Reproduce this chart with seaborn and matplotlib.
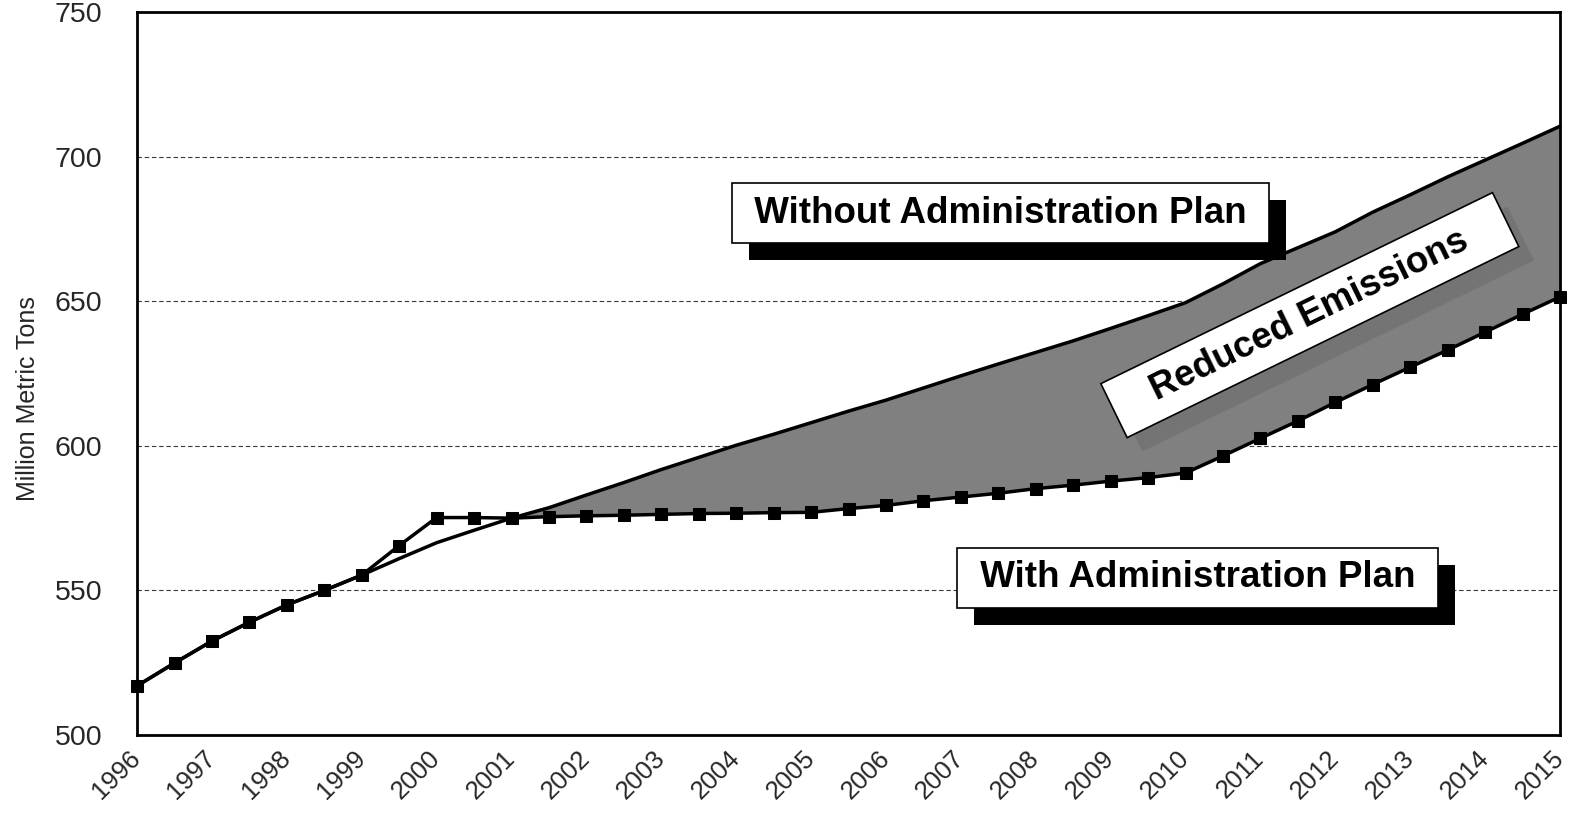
import numpy as np
import pandas as pd
import matplotlib
matplotlib.use("Agg")
import matplotlib.pyplot as plt
import matplotlib.patheffects as pe
import seaborn as sns

# Half-year steps, 1996 to 2015
years = [1996 + 0.5 * i for i in range(39)]

without_plan = [517.0, 524.9, 532.5, 539.0, 545.0, 550.0, 555.3, 561.0, 566.5, 570.8,
                575.0, 578.6, 583.0, 587.3, 591.8, 596.0, 600.2, 604.0, 608.0, 612.0,
                615.8, 620.0, 624.2, 628.3, 632.3, 636.3, 640.6, 645.0, 649.5, 656.0,
                663.0, 668.5, 674.0, 680.8, 686.8, 693.0, 698.8, 704.6, 710.5]

with_plan = [517.0, 524.9, 532.5, 539.0, 545.0, 550.0, 555.3, 565.5, 575.2, 575.2,
             575.0, 575.5, 575.8, 576.0, 576.3, 576.6, 576.7, 576.9, 577.0, 578.3,
             579.4, 581.0, 582.3, 583.6, 585.2, 586.4, 587.8, 589.0, 590.6, 596.5,
             602.6, 608.6, 615.0, 621.2, 627.2, 633.1, 639.3, 645.5, 651.5]

year_ticks = list(range(1996, 2016))
y_ticks = [500, 550, 600, 650, 700, 750]

label_without = "Without Administration Plan"
label_with = "With Administration Plan"
label_reduced = "Reduced Emissions"
y_title = "Million Metric Tons"

sns.set_style("white")
plt.rcParams["font.family"] = ["Liberation Sans", "DejaVu Sans"]

df = pd.DataFrame({"year": years, "without": without_plan, "with": with_plan})

fig = plt.figure(figsize=(15.7, 8.13), dpi=100)
ax = fig.add_axes([0.0873, 0.0959, 0.9063, 0.8893])

# dashed reference lines
for yv in y_ticks[1:-1]:
    ax.axhline(yv, color="#3a3a3a", lw=0.8, ls=(0, (4, 2.5)), zorder=0)

# shaded gap between the two projections
x = df["year"].to_numpy()
yw = df["with"].to_numpy()
yo = df["without"].to_numpy()
ax.fill_between(x, yw, yo, where=yo >= yw, interpolate=True,
                color="#808080", lw=0, zorder=1)

sns.lineplot(data=df, x="year", y="without", ax=ax, color="black",
             lw=2.5, zorder=3, clip_on=False)
sns.lineplot(data=df, x="year", y="with", ax=ax, color="black", lw=2.5,
             marker="s", markersize=8.5, markeredgecolor="black",
             markerfacecolor="black", zorder=4, clip_on=False)

ax.set_xlim(1996, 2015)
ax.set_ylim(500, 750)
ax.set_xticks(year_ticks)
ax.set_xticklabels([str(y) for y in year_ticks], rotation=45,
                   ha="right", va="center", rotation_mode="anchor", fontsize=18.5)
ax.set_yticks(y_ticks)
ax.set_yticklabels([str(v) for v in y_ticks], fontsize=20.5)
ax.tick_params(axis="y", direction="out", length=8, width=1, pad=17, color="black")
ax.tick_params(axis="x", direction="out", length=7, width=1, pad=7, color="black")
ax.set_xlabel("")
ax.set_ylabel(y_title, fontsize=18)
ax.yaxis.set_label_coords(-0.068, 0.465)

for s in ax.spines.values():
    s.set_visible(True)
    s.set_color("black")
    s.set_linewidth(2.0)


def boxed(label, xy, shadow_off, shadow_color, rot=0):
    t = ax.text(xy[0], xy[1], label, rotation=rot, rotation_mode="anchor",
                fontsize=26.5, fontweight="bold", ha="center", va="center",
                color="black", zorder=7,
                bbox=dict(boxstyle="square,pad=0.34", fc="white", ec="black", lw=1.2))
    t.get_bbox_patch().set_path_effects([
        pe.SimplePatchShadow(offset=shadow_off, shadow_rgbFace=shadow_color, alpha=1.0),
        pe.Normal(),
    ])
    return t

boxed(" " + label_without + " ", (2007.53, 680.5), (12.2, -12.2), "black")
boxed(" " + label_with + " ", (2010.16, 554.3), (12.2, -12.2), "black")
boxed("   " + label_reduced + "   ", (2011.66, 645.2), (10.8, -10.0), "#747474", rot=26)

fig.savefig("out.png", dpi=100)
